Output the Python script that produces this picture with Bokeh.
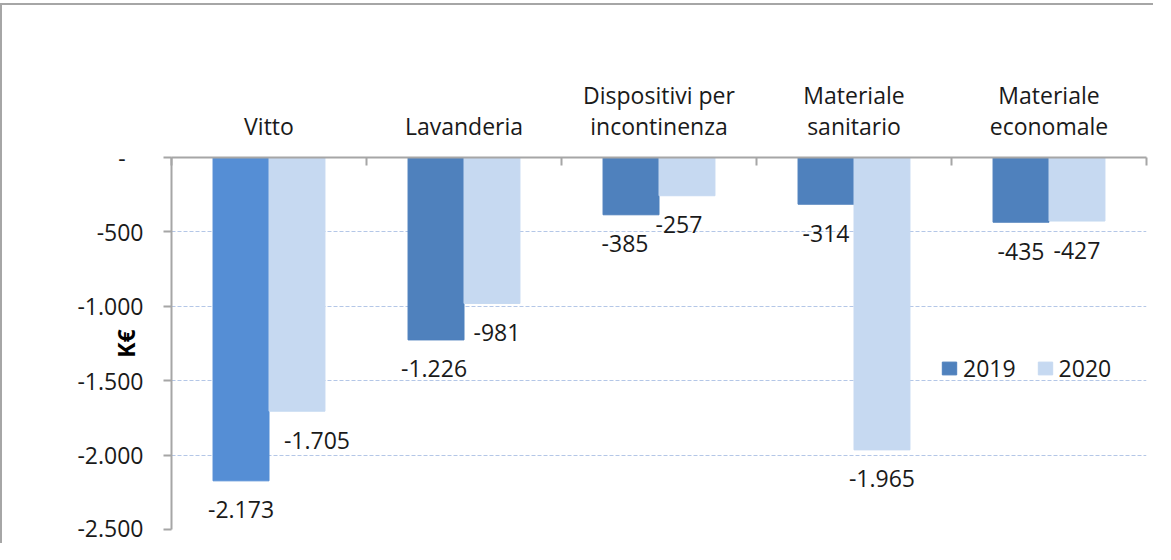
from bokeh.plotting import figure
from bokeh.models import (ColumnDataSource, Range1d, FixedTicker, Legend, LegendItem)
from bokeh.embed import file_html
from bokeh.resources import INLINE

categories = ["Vitto", "Lavanderia", "Dispositivi per\nincontinenza", "Materiale\nsanitario", "Materiale\neconomale"]
values_2019 = [-2173, -1226, -385, -314, -435]
values_2020 = [-1705, -981, -257, -1965, -427]
y_ticks = [0, -500, -1000, -1500, -2000, -2500]

# style-only
colors_2019 = ["#558ED5", "#4F81BD", "#4F81BD", "#4F81BD", "#4F81BD"]
color_2020 = "#C6D9F1"
label_dx_2019 = [0, -2, -6, 0, 0]
label_dx_2020 = [20, 5, -8, 0, 0]

FONT = "Open Sans"
FS = "23px"
BAR_W = 0.287

def fmt(v):
    if v == 0:
        return "-\u00a0\u00a0\u00a0"
    return f"{v:,}".replace(",", ".")

n = len(categories)
centers = [i + 0.5 for i in range(n)]

src19 = ColumnDataSource(dict(x=[c - BAR_W / 2 for c in centers], top=[0] * n, bottom=values_2019,
                              color=colors_2019, lab=[fmt(v) for v in values_2019], dx=label_dx_2019))
src20 = ColumnDataSource(dict(x=[c + BAR_W / 2 for c in centers], top=[0] * n, bottom=values_2020,
                              lab=[fmt(v) for v in values_2020], dx=label_dx_2020))

p = figure(width=1153, height=540, x_range=Range1d(0, n), y_range=Range1d(y_ticks[-1], 0),
           x_axis_location="above", toolbar_location=None, output_backend="svg",
           min_border_left=169, min_border_top=152, min_border_right=9, min_border_bottom=16)
p.styles = {"border-left": "2px solid #a6a6a6", "border-top": "2px solid #a6a6a6", "margin-top": "3px"}
p.outline_line_color = None
p.background_fill_color = "white"
p.border_fill_color = "white"

r19 = p.vbar(x="x", top="top", bottom="bottom", width=BAR_W, color="color", source=src19)
r20 = p.vbar(x="x", top="top", bottom="bottom", width=BAR_W, color=color_2020, source=src20)

for src in (src19, src20):
    p.text(x="x", y="bottom", text="lab", x_offset="dx", y_offset=29, source=src,
           text_align="center", text_baseline="middle", text_font={"value": FONT},
           text_font_size=FS, text_color="#1a1a1a")

# top category axis
xa = p.xaxis[0]
xa.ticker = FixedTicker(ticks=centers, minor_ticks=list(range(n + 1)))
xa.major_label_overrides = {c: cat for c, cat in zip(centers, categories)}
xa.major_tick_in = 0
xa.major_tick_out = 0
xa.minor_tick_in = 8
xa.minor_tick_out = 0
xa.minor_tick_line_color = "#a6a6a6"
xa.minor_tick_line_width = 2
xa.axis_line_color = "#a6a6a6"
xa.axis_line_width = 2
xa.major_label_text_font = FONT
xa.major_label_text_font_size = FS
xa.major_label_text_color = "#1a1a1a"
xa.major_label_text_line_height = 0.96
xa.major_label_standoff = 16
xa.major_label_orientation = "horizontal"

ya = p.yaxis[0]
ya.ticker = FixedTicker(ticks=y_ticks)
ya.major_label_overrides = {t: fmt(t) for t in y_ticks}
ya.major_tick_in = 0
ya.major_tick_out = 8
ya.minor_tick_line_color = None
ya.major_tick_line_color = "#a6a6a6"
ya.major_tick_line_width = 2
ya.axis_line_color = "#a6a6a6"
ya.axis_line_width = 2
ya.major_label_text_font = FONT
ya.major_label_text_font_size = FS
ya.major_label_text_color = "#1a1a1a"
ya.major_label_standoff = 20
ya.axis_label = "K€"
ya.axis_label_text_font = FONT
ya.axis_label_text_font_size = FS
ya.axis_label_text_font_style = "bold"
ya.axis_label_text_color = "#000000"
ya.axis_label_standoff = -68

p.xgrid.grid_line_color = None
p.ygrid.ticker = FixedTicker(ticks=y_ticks[1:])
p.ygrid.grid_line_color = "#b4c7e7"
p.ygrid.grid_line_dash = "4 2"
p.ygrid.grid_line_width = 1

legend = Legend(items=[LegendItem(label="2019", renderers=[r19], index=1),
                       LegendItem(label="2020", renderers=[r20])],
                orientation="horizontal", location=(769, 145), glyph_width=18, glyph_height=16,
                label_standoff=5, spacing=20, padding=0, margin=0,
                label_text_font=FONT, label_text_font_size=FS, label_text_color="#1a1a1a",
                border_line_color=None, background_fill_alpha=0)
p.add_layout(legend, "center")

open("out.html", "w").write(file_html(p, INLINE))
